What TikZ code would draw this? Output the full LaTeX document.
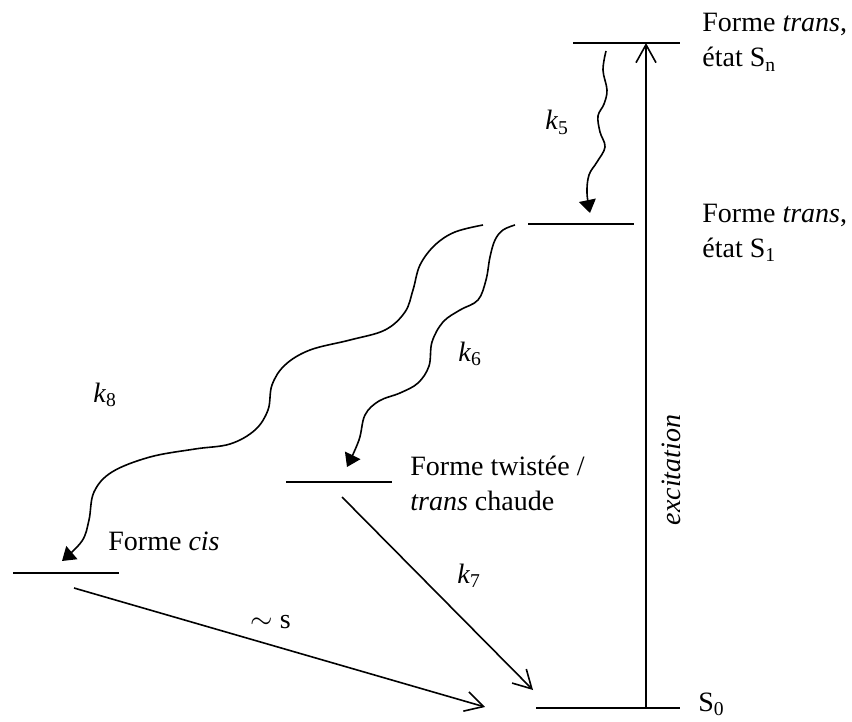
\documentclass[tikz,border=0pt]{standalone}
\usepackage{fontspec}
\setmainfont{Liberation Serif}
\usetikzlibrary{arrows.meta}
\begin{document}
\begin{tikzpicture}[x=0.5pt,y=-0.5pt,
  level/.style={line width=1pt},
  wavy/.style={line width=0.8pt,-{Triangle[length=6.5pt,width=8.5pt]}},
  conn/.style={line width=0.8pt,-{Straight Barb[length=9pt,width=10pt]}},
  lbl/.style={inner sep=0pt,anchor=base west,font=\fontsize{14}{17}\selectfont}]
\useasboundingbox (0,0) rectangle (852,722);
% levels
\coordinate (snL) at (573,43);  \coordinate (snR) at (680,43);
\coordinate (s1L) at (528,224); \coordinate (s1R) at (634,224);
\coordinate (twL) at (286,482); \coordinate (twR) at (392,482);
\coordinate (ciL) at (13,573);  \coordinate (ciR) at (119,573);
\coordinate (s0L) at (536,708); \coordinate (s0R) at (680,708);
\draw[level] (snL) -- (snR);
\draw[level] (s1L) -- (s1R);
\draw[level] (twL) -- (twR);
\draw[level] (ciL) -- (ciR);
\draw[level] (s0L) -- (s0R);
% excitation
\coordinate (exB) at (646,708); \coordinate (exT) at (646,43);
\draw[conn] (exB) -- (exT);
% straight decays
\coordinate (k7a) at (342,497); \coordinate (k7b) at (533,690);
\draw[conn] (k7a) -- (k7b);
\coordinate (csa) at (74,588); \coordinate (csb) at (485,707);
\draw[conn] (csa) -- (csb);
% wavy k5
\coordinate (k5a) at (606,51); \coordinate (k5b) at (590,213);
\draw[wavy] plot[smooth,tension=0.6] coordinates {(k5a) (603,70) (607,90) (604,104) (598,116) (600,132) (605,147) (597,162) (589,175) (587,193) (k5b)};
% wavy k6
\coordinate (k6a) at (515,225); \coordinate (k6b) at (347,467);
\draw[wavy] plot[smooth,tension=0.6] coordinates {(k6a) (503,230) (495,240) (490,257) (486,280) (478,300) (460,310) (443,322) (432,342) (429,366) (418,383) (400,393) (379,401) (365,415) (359,440) (k6b)};
% wavy k8
\coordinate (k8a) at (483,225); \coordinate (k8b) at (62,561);
\draw[wavy] plot[smooth,tension=0.6] coordinates {(k8a) (455,232) (435,245) (420,265) (413,290) (405,312) (385,330) (350,340) (310,350) (285,365) (272,385) (268,410) (255,430) (230,444) (195,449) (150,457) (112,472) (94,492) (89,520) (82,541) (k8b)};
% labels
\node[lbl] (snA) at (702,32) {Forme \textit{trans},};
\node[lbl] (snB) at (702,67) {état S\textsubscript{n}};
\node[lbl] (s1A) at (702,222) {Forme \textit{trans},};
\node[lbl] (s1B) at (702,257) {état S\textsubscript{1}};
\node[lbl] (twA) at (410,475) {Forme twistée /};
\node[lbl] (twB) at (410,510) {\textit{trans} chaude};
\node[lbl] (ciA) at (108,550) {Forme \textit{cis}};
\node[lbl] (s0) at (698,711) {S\textsubscript{0}};
\node[lbl] (k5) at (545,130) {\textit{k}\textsubscript{5}};
\node[lbl] (k6) at (458,361) {\textit{k}\textsubscript{6}};
\node[lbl] (k7) at (457,583) {\textit{k}\textsubscript{7}};
\node[lbl] (k8) at (93,402) {\textit{k}\textsubscript{8}};
\node[lbl] (sl) at (250,628) {$\sim$ s};
\node[inner sep=0pt,rotate=90,font=\fontsize{14}{17}\selectfont] (exc) at (671,470) {\textit{excitation}};
\end{tikzpicture}
\end{document}
